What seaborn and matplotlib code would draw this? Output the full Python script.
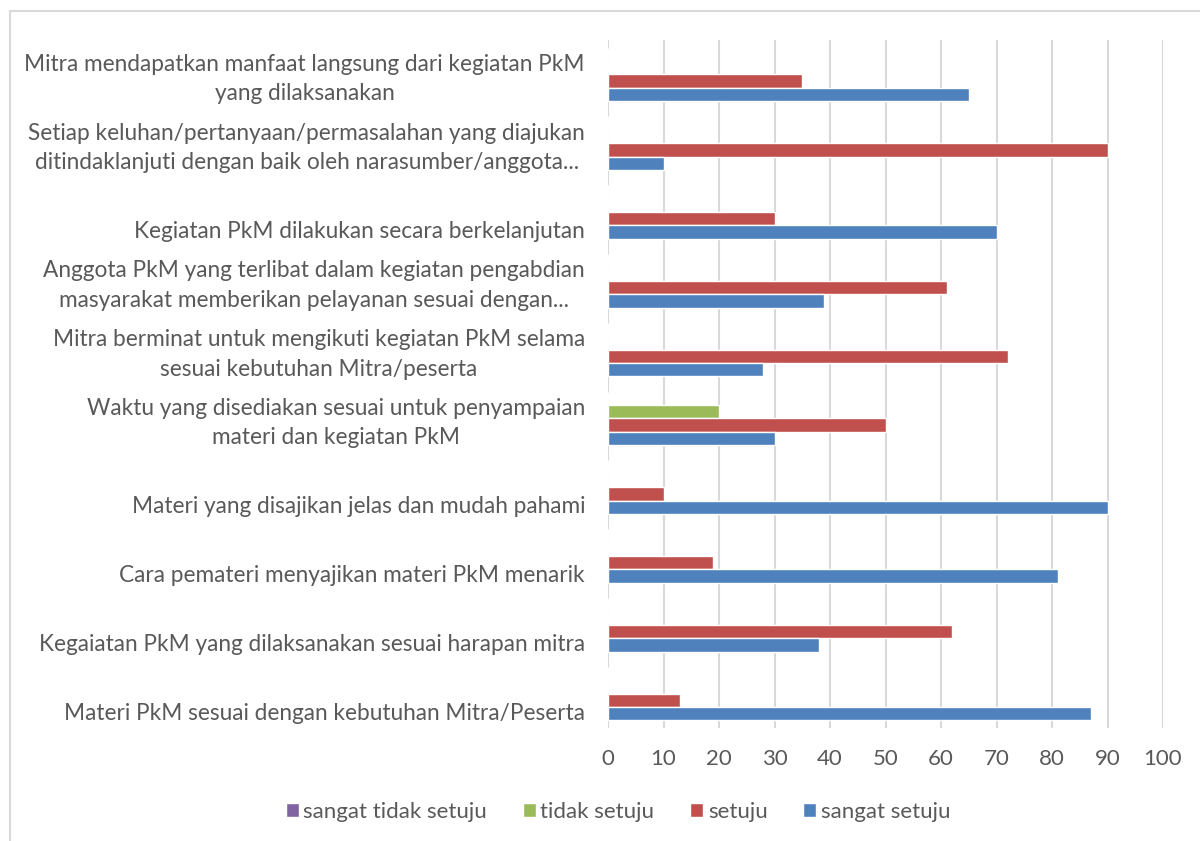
import matplotlib
matplotlib.use("Agg")
import matplotlib.pyplot as plt
import matplotlib.transforms as mtransforms
from matplotlib.patches import Rectangle
import pandas as pd
import seaborn as sns

# Pertanyaan (dari atas ke bawah)
kategori = [
    "Mitra mendapatkan manfaat langsung dari kegiatan PkM\nyang dilaksanakan",
    "Setiap keluhan/pertanyaan/permasalahan yang diajukan\nditindaklanjuti dengan baik oleh narasumber/anggota...",
    "Kegiatan PkM dilakukan secara berkelanjutan",
    "Anggota PkM yang terlibat dalam kegiatan pengabdian\nmasyarakat memberikan pelayanan sesuai dengan...",
    "Mitra berminat untuk mengikuti kegiatan PkM selama\nsesuai kebutuhan Mitra/peserta",
    "Waktu yang disediakan sesuai untuk penyampaian\nmateri dan kegiatan PkM",
    "Materi yang disajikan jelas dan mudah pahami",
    "Cara pemateri menyajikan materi PkM menarik",
    "Kegaiatan PkM yang dilaksanakan sesuai harapan mitra",
    "Materi PkM sesuai dengan kebutuhan Mitra/Peserta",
]
respon = ["sangat tidak setuju", "tidak setuju", "setuju", "sangat setuju"]

sangat_tidak_setuju = [0, 0, 0, 0, 0, 0, 0, 0, 0, 0]
tidak_setuju = [0, 0, 0, 0, 0, 20, 0, 0, 0, 0]
setuju = [35, 90, 30, 61, 72, 50, 10, 19, 62, 13]
sangat_setuju = [65, 10, 70, 39, 28, 30, 90, 81, 38, 87]

warna = ["#8064A2", "#9BBB59", "#C0504D", "#4F81BD"]
x_ticks = [0, 10, 20, 30, 40, 50, 60, 70, 80, 90, 100]

# long format for seaborn
rows = []
for nama, nilai in zip(respon, [sangat_tidak_setuju, tidak_setuju, setuju, sangat_setuju]):
    for k, v in zip(kategori, nilai):
        rows.append({"kategori": k, "respon": nama, "nilai": v})
df = pd.DataFrame(rows)

sns.set_theme(style="white")
plt.rcParams["font.family"] = ["Lato", "DejaVu Sans"]
teks = "#595959"

fig = plt.figure(figsize=(12, 8.41), dpi=100)
ax = fig.add_axes([608 / 1200, 1 - 728 / 841, 555 / 1200, 688 / 841])

sns.barplot(data=df, x="nilai", y="kategori", hue="respon", hue_order=respon,
            order=kategori, palette=warna, orient="h", width=0.78,
            errorbar=None, saturation=1, ax=ax)

ax.set_xlim(0, 100)
ax.set_xticks(x_ticks)
ax.set_xlabel("")
ax.set_ylabel("")
ax.set_yticklabels([])
ax.tick_params(axis="y", length=0)
ax.tick_params(axis="x", length=0, pad=15, labelsize=16, labelcolor=teks)
ax.grid(axis="x", color="#D9D9D9", linewidth=1.5)
ax.grid(axis="y", visible=False)
ax.set_axisbelow(True)
for s in ax.spines.values():
    s.set_visible(False)

# category labels, bottom-aligned like Excel
geser = mtransforms.ScaledTranslation(-23 / 100, -30 / 100, fig.dpi_scale_trans)
trans = mtransforms.blended_transform_factory(ax.transAxes, ax.transData) + geser
for i, label in enumerate(kategori):
    ax.text(0, i, label, transform=trans, ha="right", va="bottom",
            multialignment="center", fontsize=16.3, color=teks, linespacing=1.5)

handles, labels = ax.get_legend_handles_labels()
ax.legend(handles, labels, loc="center", bbox_to_anchor=(618 / 1200, 1 - 812 / 841),
          bbox_transform=fig.transFigure, ncol=4, frameon=False, fontsize=16,
          labelcolor=teks, handlelength=0.6, handleheight=0.6, handletextpad=0.2,
          columnspacing=1.6)

# chart frame (only top/left visible in the crop)
fig.add_artist(Rectangle((10 / 1200, -0.1), 1.2, 1.1 - 11 / 841,
                         transform=fig.transFigure, fill=False,
                         edgecolor="#D9D9D9", linewidth=1.5))

fig.savefig("out.png", dpi=100)
